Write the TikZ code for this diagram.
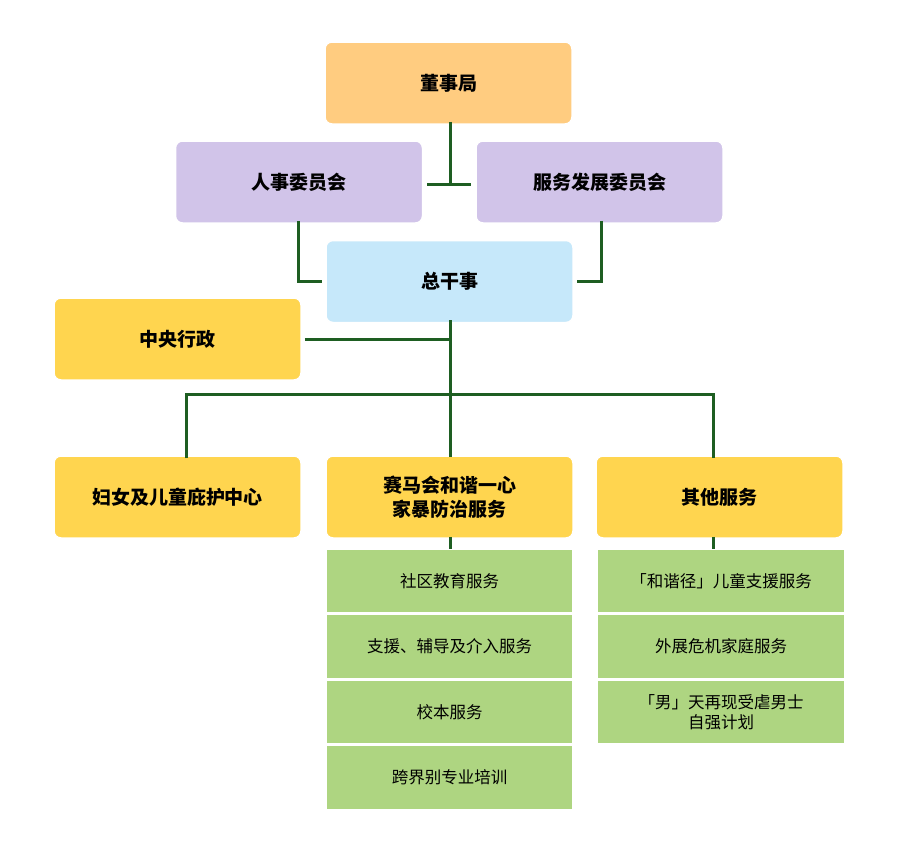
\documentclass[tikz,border=0pt]{standalone}
\usepackage{fontspec}
\newfontfamily\cjk{Noto Sans CJK SC}
\usetikzlibrary{positioning,calc}

\definecolor{boardorange}{HTML}{FFCC80}
\definecolor{cmtlilac}{HTML}{D1C4E9}
\definecolor{gmblue}{HTML}{C6E8FA}
\definecolor{unityellow}{HTML}{FFD54F}
\definecolor{svcgreen}{HTML}{AED581}
\definecolor{linkgreen}{HTML}{1E5E22}

\begin{document}
\begin{tikzpicture}[
  x=1pt, y=-1pt,
  unit/.style={rectangle, draw=white, line width=1.5pt, rounded corners=7pt, minimum width=247pt, minimum height=82pt, align=center, font=\cjk\bfseries\fontsize{19}{24}\selectfont, inner sep=2pt},
  item/.style={rectangle, draw=white, line width=1.5pt, fill=svcgreen, minimum width=247pt, minimum height=64pt, align=center, font=\cjk\fontsize{16.5}{20}\selectfont, inner sep=2pt},
  link/.style={draw=linkgreen, line width=3pt},
]
\useasboundingbox[fill=white] (0,0) rectangle (900,860);

% Governance
\node[unit, fill=boardorange] (board) at (448.5, 83) {董事局};
\node[unit, fill=cmtlilac] (hr) at (299, 182) {人事委员会};
\node[unit, fill=cmtlilac] (devt) at (599.5, 182) {服务发展委员会};
\node[unit, fill=gmblue] (gm) at (449.5, 281.5) {总干事};

% Units
\node[unit, fill=unityellow] (admin) at (177.5, 339) {中央行政};
\node[unit, fill=unityellow] (shelter) at (177.5, 497) {妇女及儿童庇护中心};
\node[unit, fill=unityellow] (harmony) at (449.5, 497) {赛马会和谐一心\\家暴防治服务};
\node[unit, fill=unityellow] (others) at (719.5, 497) {其他服务};

% Harmony services
\node[item] (edu) at (449.5, 581) {社区教育服务};
\node[item, below=0pt of edu] (support) {支援、辅导及介入服务};
\node[item, below=0pt of support] (school) {校本服务};
\node[item, below=0pt of school] (training) {跨界别专业培训};

% Other services
\node[item] (child) at (721, 581) {「和谐径」儿童支援服务};
\node[item, below=0pt of child] (crisis) {外展危机家庭服务};
\node[item, below=0pt of crisis] (men) {「男」天再现受虐男士\\自强计划};

% Links
\coordinate (cmt) at (450, 184);
\coordinate (bus) at (450, 394);
\draw[link] ([yshift=3pt]board.south -| cmt) -- (cmt);
\draw[link] ([xshift=4pt]hr.east |- cmt) -- ([xshift=-4pt]devt.west |- cmt);
\draw[link] ([xshift=-1pt,yshift=3pt]hr.south) |- ([xshift=-3pt]gm.west);
\draw[link] ([xshift=1.5pt,yshift=3pt]devt.south) |- ([xshift=3pt]gm.east);
\draw[link] ([yshift=3pt]gm.south -| bus) -- ([yshift=-2pt]harmony.north -| bus);
\draw[link] ([xshift=3pt]admin.east) -- (admin.east -| bus);
\draw[link] ([xshift=8.5pt,yshift=-3pt]shelter.north) |- (bus) -| ([xshift=-6.5pt,yshift=-3pt]others.north);
\draw[link] ([yshift=2pt]harmony.south -| bus) -- ([yshift=-1pt]edu.north -| bus);
\draw[link] ([xshift=-6.5pt,yshift=2pt]others.south) -- ([xshift=-6.5pt,yshift=-1pt]others.south |- child.north);

\end{tikzpicture}
\end{document}
